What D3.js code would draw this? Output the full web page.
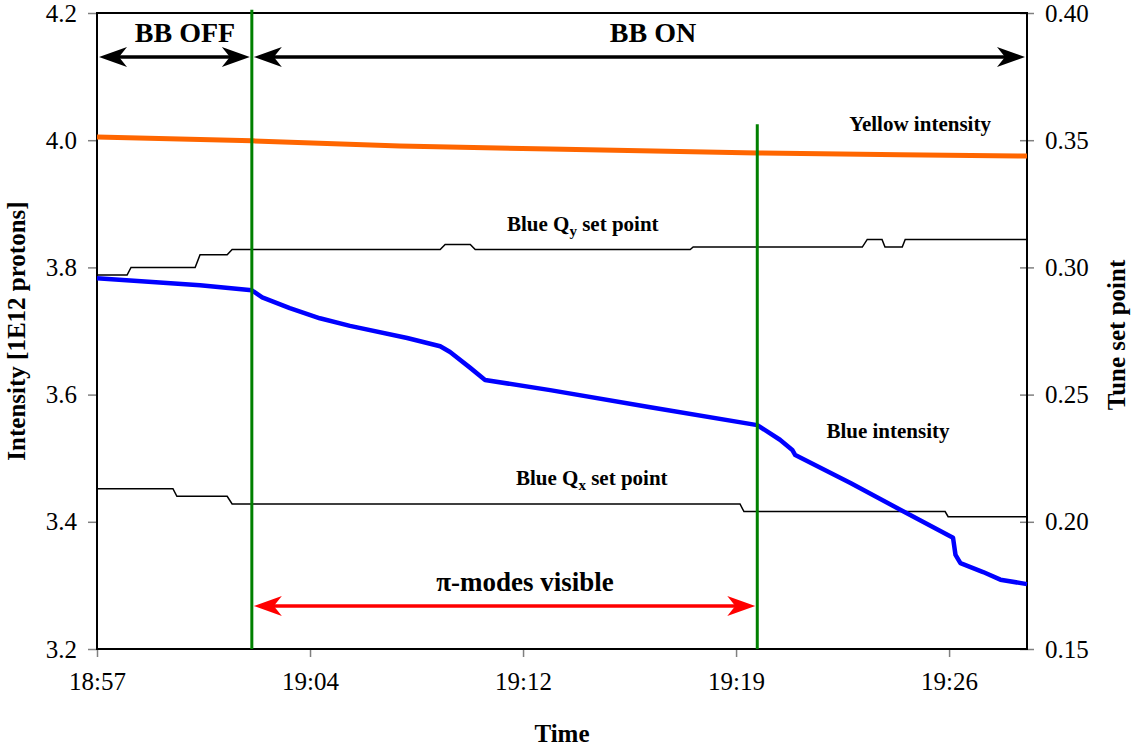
<!DOCTYPE html>
<html>
<meta charset="utf-8">
<style>
body { margin: 0; background: #fff; }
</style>
<body>
<script src="https://d3js.org/d3.v7.min.js"></script>
<script>
// ---- data ----
var xDomain = ["18:57:36", "19:29:02"];
var xTicks = ["18:57:36", "19:04:48", "19:12:00", "19:19:12", "19:26:24"];
var leftTicks = [3.2, 3.4, 3.6, 3.8, 4.0, 4.2];
var rightTicks = [0.15, 0.20, 0.25, 0.30, 0.35, 0.40];

var yellowTime = ["18:57:36", "19:02:50", "19:07:50", "19:12:55", "19:19:55", "19:24:45", "19:29:02"];
var yellowInt  = [4.005, 3.999, 3.991, 3.986, 3.980, 3.977, 3.975];

var blueTime = ["18:57:36", "19:01:05", "19:02:50", "19:03:11", "19:04:07", "19:05:08", "19:06:09",
                "19:08:05", "19:09:12", "19:09:32", "19:10:13", "19:10:43", "19:12:55", "19:16:18",
                "19:19:55", "19:20:41", "19:21:06", "19:21:12", "19:23:04", "19:24:45", "19:26:32",
                "19:26:37", "19:26:47", "19:27:33", "19:28:08", "19:29:02"];
var blueInt  = [3.783, 3.772, 3.764, 3.753, 3.736, 3.720, 3.708,
                3.689, 3.676, 3.667, 3.642, 3.623, 3.607, 3.580,
                3.552, 3.529, 3.513, 3.505, 3.461, 3.419, 3.375,
                3.348, 3.335, 3.321, 3.309, 3.302];

var qyTime = ["18:57:36", "18:58:37", "18:58:45", "19:00:55", "19:01:05", "19:02:00", "19:02:10",
              "19:09:12", "19:09:22", "19:10:13", "19:10:23", "19:17:39", "19:17:45", "19:23:28",
              "19:23:38", "19:24:08", "19:24:14", "19:24:49", "19:24:55", "19:29:02"];
var qyVal  = [0.297, 0.297, 0.300, 0.300, 0.305, 0.305, 0.307,
              0.307, 0.309, 0.309, 0.307, 0.307, 0.308, 0.308,
              0.311, 0.311, 0.308, 0.308, 0.311, 0.311];

var qxTime = ["18:57:36", "19:00:10", "19:00:18", "19:02:00", "19:02:10", "19:19:20", "19:19:28",
              "19:26:16", "19:26:22", "19:29:02"];
var qxVal  = [0.213, 0.213, 0.210, 0.210, 0.207, 0.207, 0.204, 0.204, 0.202, 0.202];

var eventTime = ["19:02:50", "19:19:55"];   // BB on, end of pi-modes
var eventTop  = [4.205, 4.025];

var FONT = "'Liberation Serif', 'Times New Roman', 'DejaVu Serif', serif";

var margin = {top: 13, right: 110, bottom: 102, left: 97},
    width = 1137 - margin.left - margin.right,
    height = 751 - margin.top - margin.bottom;

var parse = d3.timeParse("%H:%M:%S");
var x = d3.scaleTime().domain(xDomain.map(parse)).range([0, width]);
var y = d3.scaleLinear().domain([3.2, 4.2]).range([height, 0]);
var y2 = d3.scaleLinear().domain([0.15, 0.40]).range([height, 0]);

var svg = d3.select("body").append("svg")
    .attr("width", 1137).attr("height", 751)
    .style("font-family", FONT)
  .append("g")
    .attr("transform", "translate(" + margin.left + "," + margin.top + ")");

var defs = svg.append("defs");
function marker(id, color) {
  defs.append("marker")
      .attr("id", id)
      .attr("markerUnits", "userSpaceOnUse")
      .attr("viewBox", "-20 -12 32 24")
      .attr("markerWidth", 32).attr("markerHeight", 24)
      .attr("refX", 0).attr("refY", 0)
      .attr("orient", "auto-start-reverse")
    .append("path")
      .attr("d", "M10,0 L-18,-10 L-10,0 L-18,10 Z")
      .attr("fill", color);
}
marker("headK", "#000");
marker("headR", "#ff0000");

// axes
svg.append("g")
    .attr("class", "x axis")
    .attr("transform", "translate(0," + height + ")")
    .call(d3.axisBottom(x).tickValues(xTicks.map(parse)).tickFormat(d3.timeFormat("%H:%M"))
      .tickSize(8).tickSizeOuter(0).tickPadding(14))
    .call(function(g) { g.select(".domain").remove(); });

svg.append("g")
    .attr("class", "y axis")
    .call(d3.axisLeft(y).tickValues(leftTicks).tickFormat(d3.format(".1f"))
      .tickSize(9).tickSizeOuter(0).tickPadding(11))
    .call(function(g) { g.select(".domain").remove(); });

svg.append("g")
    .attr("class", "y2 axis")
    .attr("transform", "translate(" + width + ",0)")
    .call(d3.axisRight(y2).tickValues(rightTicks).tickFormat(d3.format(".2f"))
      .tickSize(7).tickSizeOuter(0).tickPadding(11))
    .call(function(g) { g.select(".domain").remove(); });

svg.selectAll(".axis").attr("font-family", FONT).attr("font-size", 25);
svg.selectAll(".y2 .tick line").attr("x1", -7);
svg.selectAll(".tick line").attr("stroke", "#808080").attr("stroke-width", 1.5);
svg.selectAll(".tick text").attr("fill", "#000").style("font-family", FONT);
svg.selectAll(".x .tick text").attr("dy", "0.75em");

// frame
svg.append("rect")
    .attr("width", width).attr("height", height)
    .attr("fill", "none").attr("stroke", "#000").attr("stroke-width", 2);

function series(times, vals) {
  return times.map(function(t, i) { return [parse(t), vals[i]]; });
}
var lineL = d3.line().x(function(d) { return x(d[0]); }).y(function(d) { return y(d[1]); });
var lineR = d3.line().x(function(d) { return x(d[0]); }).y(function(d) { return y2(d[1]); });

svg.append("path").attr("d", lineR(series(qyTime, qyVal)))
    .attr("fill", "none").attr("stroke", "#000").attr("stroke-width", 1.5);
svg.append("path").attr("d", lineR(series(qxTime, qxVal)))
    .attr("fill", "none").attr("stroke", "#000").attr("stroke-width", 1.5);
svg.append("path").attr("d", lineL(series(yellowTime, yellowInt)))
    .attr("fill", "none").attr("stroke", "#ff6600").attr("stroke-width", 5);
svg.append("path").attr("d", lineL(series(blueTime, blueInt)))
    .attr("fill", "none").attr("stroke", "#0000ff").attr("stroke-width", 4.5)
    .attr("stroke-linejoin", "round");

// event lines
svg.selectAll(".event").data(eventTime).enter().append("line")
    .attr("x1", function(d) { return x(parse(d)); })
    .attr("x2", function(d) { return x(parse(d)); })
    .attr("y1", function(d, i) { return y(eventTop[i]); })
    .attr("y2", height)
    .attr("stroke", "#008000").attr("stroke-width", 3);

// double arrows
function arrow(t0, t1, yy, id, color) {
  svg.append("line")
      .attr("x1", x(parse(t0)) + 12).attr("x2", x(parse(t1)) - 12)
      .attr("y1", yy).attr("y2", yy)
      .attr("stroke", color).attr("stroke-width", 3.5)
      .attr("marker-start", "url(#" + id + ")")
      .attr("marker-end", "url(#" + id + ")");
}
arrow(xDomain[0], eventTime[0], 44, "headK", "#000");
arrow(eventTime[0], xDomain[1], 44, "headK", "#000");
arrow(eventTime[0], eventTime[1], 593, "headR", "#ff0000");

// labels
function label(txt, xx, yy, size) {
  return svg.append("text")
      .attr("x", xx).attr("y", yy)
      .attr("text-anchor", "middle")
      .attr("font-size", size + "px")
      .attr("font-weight", "bold")
      .style("font-family", FONT)
      .text(txt);
}
label("BB OFF", 88, 29, 28);
label("BB ON", 556, 29, 28);
label("Yellow intensity", 823, 118, 21);
label("Blue intensity", 791, 425, 21);
label("\u03c0-modes visible", 428, 578, 27);

var qy = label("Blue Q", 410, 218, 21).attr("text-anchor", "start");
qy.append("tspan").attr("font-size", "15px").attr("dy", 5).text("y");
qy.append("tspan").attr("dy", -5).text(" set point");
var qx = label("Blue Q", 419, 472, 21).attr("text-anchor", "start");
qx.append("tspan").attr("font-size", "15px").attr("dy", 5).text("x");
qx.append("tspan").attr("dy", -5).text(" set point");

label("Time", width / 2, height + 93, 25);
label("Intensity [1E12 protons]", 0, 0, 25)
    .attr("transform", "translate(-72," + (height / 2) + ") rotate(-90)");
label("Tune set point", 0, 0, 25)
    .attr("transform", "translate(1028," + (height / 2 + 4) + ") rotate(-90)");
</script>
</body>
</html>
